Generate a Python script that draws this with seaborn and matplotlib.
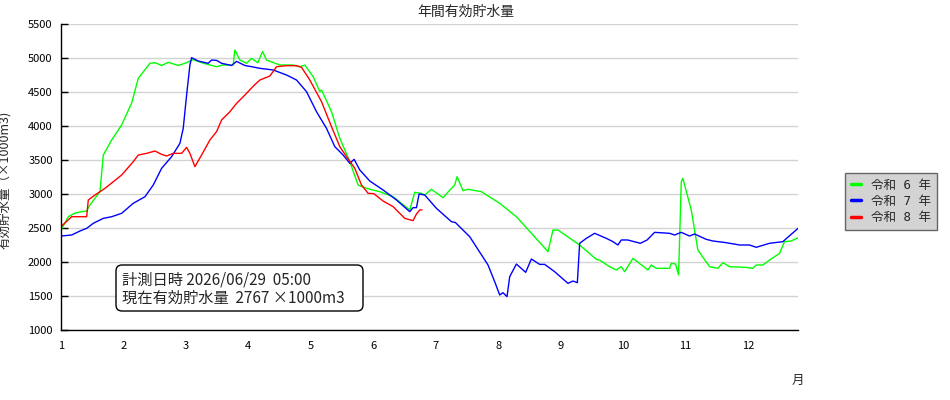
import pandas as pd
import matplotlib
matplotlib.use("Agg")
import matplotlib.pyplot as plt
from matplotlib.patches import FancyBboxPatch
from matplotlib.transforms import IdentityTransform
import seaborn as sns

# =============================
#  Data (x = month position, y = x1000 m3)
# =============================
r6_month = [1.0, 1.117, 1.224, 1.331, 1.411, 1.464, 1.624, 1.677, 1.811, 1.971,
            2.131, 2.237, 2.424, 2.504, 2.611, 2.717, 2.877, 2.984, 3.117, 3.272,
            3.491, 3.592, 3.757, 3.784, 3.864, 3.971, 4.051, 4.152, 4.227, 4.291,
            4.504, 4.712, 4.824, 4.904, 5.037, 5.144, 5.171, 5.331, 5.464, 5.624,
            5.757, 5.891, 6.104, 6.317, 6.584, 6.664, 6.771, 6.824, 6.931, 7.117,
            7.251, 7.304, 7.341, 7.437, 7.517, 7.731, 8.024, 8.291, 8.557, 8.797,
            8.877, 8.957, 9.304, 9.571, 9.624, 9.784, 9.891, 9.971, 10.024, 10.157,
            10.397, 10.451, 10.531, 10.744, 10.771, 10.84, 10.888, 10.931, 10.957, 11.091,
            11.197, 11.384, 11.517, 11.597, 11.704, 11.971, 12.077, 12.131, 12.237, 12.344,
            12.504, 12.584, 12.691, 12.813]
r6_value = [2470, 2666, 2720, 2740, 2750, 2840, 3034, 3573, 3794, 4015,
            4338, 4700, 4922, 4931, 4890, 4936, 4890, 4922, 4975, 4925,
            4872, 4897, 4897, 5118, 4970, 4922, 4995, 4931, 5096, 4970,
            4897, 4897, 4872, 4895, 4725, 4505, 4530, 4210, 3819, 3475,
            3132, 3083, 3034, 2960, 2765, 3025, 3010, 2985, 3069, 2946,
            3083, 3132, 3255, 3049, 3069, 3034, 2863, 2666, 2397, 2152,
            2470, 2470, 2250, 2039, 2029, 1931, 1882, 1931, 1857, 2054,
            1882, 1956, 1907, 1907, 1980, 1970, 1809, 3181, 3230, 2765,
            2176, 1931, 1907, 1990, 1931, 1921, 1907, 1956, 1956, 2029,
            2127, 2299, 2309, 2363]

r7_month = [1.0, 1.171, 1.304, 1.411, 1.517, 1.677, 1.811, 1.971, 2.157, 2.344,
            2.477, 2.611, 2.771, 2.904, 2.957, 3.011, 3.064, 3.091, 3.197, 3.357,
            3.411, 3.491, 3.571, 3.731, 3.811, 3.944, 4.104, 4.184, 4.397, 4.611,
            4.771, 4.931, 5.091, 5.251, 5.384, 5.517, 5.624, 5.693, 5.784, 5.944,
            6.157, 6.371, 6.584, 6.637, 6.691, 6.733, 6.824, 7.011, 7.251, 7.315,
            7.544, 7.837, 7.944, 8.024, 8.077, 8.141, 8.184, 8.291, 8.44, 8.531,
            8.664, 8.744, 8.904, 9.117, 9.197, 9.267, 9.304, 9.411, 9.544, 9.731,
            9.837, 9.917, 9.971, 10.072, 10.277, 10.384, 10.504, 10.744, 10.824, 10.931,
            11.064, 11.144, 11.331, 11.437, 11.651, 11.864, 12.024, 12.131, 12.344, 12.557,
            12.813]
r7_value = [2382, 2397, 2456, 2495, 2569, 2642, 2666, 2716, 2863, 2960,
            3132, 3378, 3549, 3745, 3965, 4455, 4897, 5005, 4956, 4922,
            4970, 4965, 4922, 4890, 4950, 4890, 4863, 4848, 4824, 4750,
            4676, 4505, 4210, 3965, 3696, 3573, 3451, 3510, 3353, 3191,
            3059, 2912, 2740, 2799, 2799, 3000, 2985, 2789, 2593, 2580,
            2372, 1956, 1710, 1515, 1549, 1490, 1784, 1970, 1848, 2044,
            1965, 1965, 1857, 1686, 1720, 1696, 2275, 2348, 2422, 2348,
            2299, 2250, 2324, 2324, 2275, 2324, 2436, 2422, 2397, 2436,
            2382, 2412, 2333, 2309, 2284, 2250, 2250, 2216, 2275, 2299,
            2505]

r8_month = [1.0, 1.171, 1.411, 1.437, 1.544, 1.704, 1.971, 2.157, 2.237, 2.371,
            2.504, 2.611, 2.691, 2.797, 2.931, 3.011, 3.064, 3.144, 3.251, 3.384,
            3.491, 3.571, 3.704, 3.811, 3.944, 4.093, 4.184, 4.344, 4.451, 4.611,
            4.771, 4.851, 4.984, 5.171, 5.331, 5.464, 5.571, 5.704, 5.811, 5.917,
            6.008, 6.157, 6.317, 6.504, 6.637, 6.691, 6.744, 6.781]
r8_value = [2520, 2666, 2666, 2912, 2985, 3083, 3279, 3475, 3573, 3598,
            3632, 3583, 3559, 3598, 3598, 3686, 3598, 3402, 3573, 3794,
            3917, 4088, 4210, 4333, 4455, 4600, 4676, 4735, 4872, 4887,
            4887, 4863, 4676, 4358, 3990, 3696, 3549, 3378, 3132, 3010,
            3005, 2897, 2814, 2642, 2608, 2706, 2765, 2767]

series_labels = ["令和 6 年", "令和 7 年", "令和 8 年"]
month_ticks = list(range(1, 13))
value_ticks = list(range(1000, 5501, 500))

measure_lines = ["計測日時 2026/06/29  05:00", "現在有効貯水量  2767 ×1000m3"]

frames = []
for label, xs, ys in zip(series_labels, [r6_month, r7_month, r8_month],
                         [r6_value, r7_value, r8_value]):
    frames.append(pd.DataFrame({"month": xs, "value": ys, "year": label}))
df = pd.concat(frames, ignore_index=True)

# =============================
#  Style
# =============================
sns.set_theme(style="white")
plt.rcParams["font.family"] = ["Noto Sans CJK JP", "DejaVu Sans"]
mono_cjk = ["DejaVu Sans Mono", "Noto Sans CJK JP"]

W, H = 950, 400
fig = plt.figure(figsize=(9.5, 4), dpi=100)
ax = fig.add_axes([61 / W, 1 - 330 / H, (798 - 61) / W, (330 - 24) / H])

sns.lineplot(data=df, x="month", y="value", hue="year", estimator=None,
             palette=["#00ff00", "#0000ff", "#ff0000"], linewidth=1.0,
             ax=ax, legend=True)

ax.set_xlim(1, 12.8)
ax.set_ylim(1000, 5500)
ax.set_xticks(month_ticks)
ax.set_yticks(value_ticks)
ax.tick_params(axis="x", length=0, labelsize=8, pad=8, colors="black")
ax.tick_params(axis="y", direction="in", length=5, width=1, labelsize=8,
               pad=6, colors="black", left=True)
ax.yaxis.grid(True, color="#d3d3d3", linewidth=1)
ax.xaxis.grid(False)
for side in ["top", "right"]:
    ax.spines[side].set_visible(False)
for side in ["left", "bottom"]:
    ax.spines[side].set_color("black")
    ax.spines[side].set_linewidth(1)
ax.set_xlabel("")
ax.set_ylabel("")

# legend outside on the right, grey box
handles, labels = ax.get_legend_handles_labels()
ax.get_legend().remove()
leg = fig.legend(handles, labels, loc="upper left",
                 bbox_to_anchor=(845 / W, 1 - 173 / H),
                 frameon=True, fancybox=False,
                 prop={"family": mono_cjk, "size": 9},
                 handlelength=0.85, handletextpad=0.8, labelspacing=0.25,
                 borderpad=0.45, borderaxespad=0, framealpha=1)
leg.get_frame().set_facecolor("#d3d3d3")
leg.get_frame().set_edgecolor("#666666")
for line in leg.get_lines():
    line.set_linewidth(2.5)

fig.text(0.49, 1 - 12 / H, "年間有効貯水量", ha="center", va="center", fontsize=10)
fig.text(5 / W, 1 - 180 / H, "有効貯水量（×1000m3)", rotation=90,
         ha="center", va="center", fontsize=9)
fig.text(798 / W, 1 - 380 / H, "月", ha="center", va="center", fontsize=9)

# measurement box
box = FancyBboxPatch((116, H - 311), 247, 46,
                     boxstyle="round,pad=0,rounding_size=6",
                     facecolor="white", edgecolor="black", linewidth=1,
                     transform=IdentityTransform())
fig.add_artist(box)
for i, line_text in enumerate(measure_lines):
    fig.text(122 / W, 1 - (280 + 18 * i) / H, line_text, ha="left", va="center",
             fontsize=11)

plt.savefig("out.png", dpi=100)
plt.close()
